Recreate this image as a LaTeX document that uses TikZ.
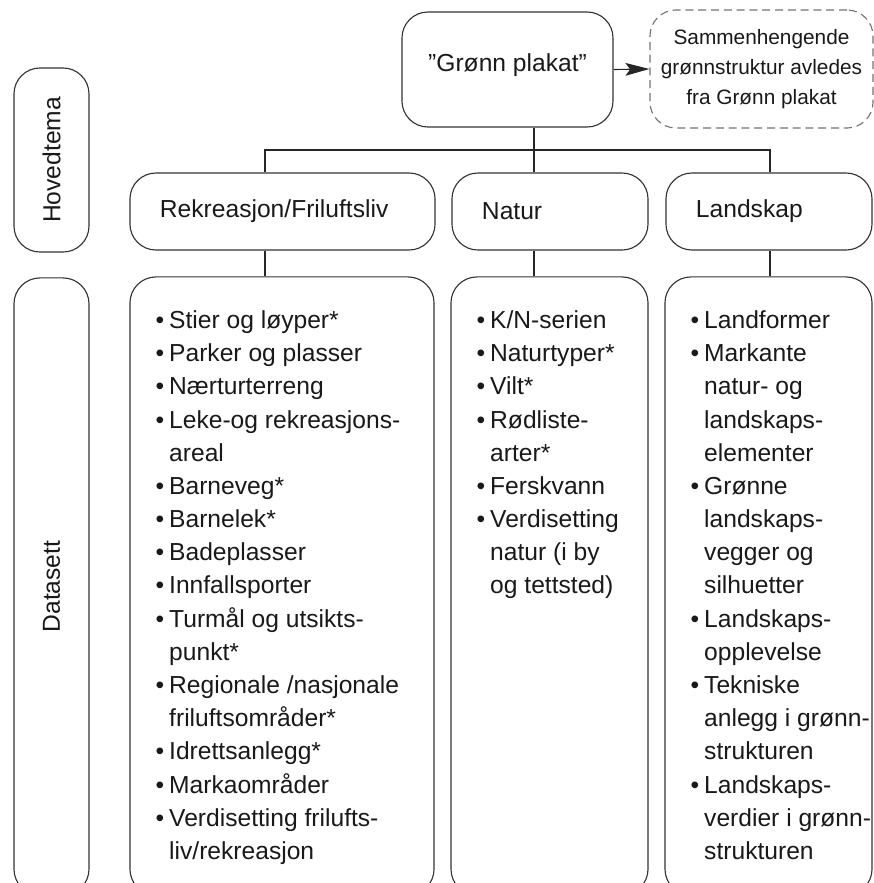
\documentclass[tikz,border=0pt]{standalone}
\usepackage{fontspec}
\setmainfont{Liberation Sans}
\usetikzlibrary{arrows.meta}
\tikzstyle{box} = [draw=black!80, line width=0.8pt, rounded corners=0.65cm, inner sep=0pt]
\tikzstyle{headbox} = [box, minimum height=1.925cm, inner xsep=0.75cm, align=left]
\tikzstyle{sidebox} = [box, rotate=90, minimum height=1.875cm]
\tikzstyle{listbox} = [box, minimum height=15.45cm]
\tikzstyle{listtxt} = [anchor=north west, align=left, inner sep=0pt]
\tikzstyle{link} = [draw=black!85, line width=0.8pt]
\newcommand{\pkt}[1]{\makebox[0.55em][l]{•}#1}
\newcommand{\fort}[1]{\hspace*{0.55em}#1}

\begin{document}
\begin{tikzpicture}[x=0.025cm, y=-0.025cm, font=\fontsize{17.5}{23.6}\selectfont, text=black!90]

		\clip (0,0) rectangle (874,883);

		\node [box, minimum width=5.275cm, minimum height=2.875cm, text height=0.5em, text depth=0.21em] (plakat) at (507.5,69.5) {”Grønn plakat”};
		\node [box, draw=black!55, dash pattern=on 0.2cm off 0.12cm, minimum width=5.575cm, minimum height=2.95cm, align=center, font=\fontsize{14.8}{21.3}\selectfont] (avledet) at (761.5,69) {Sammenhengende\\grønnstruktur avledes\\fra Grønn plakat};
		\draw [link, -{Stealth[length=0.6cm, width=0.32cm, inset=0.12cm]}] (plakat.east) -- (avledet.west);

		\node [sidebox, minimum width=4.6cm] (hovedtema) at (51.5,160) {Hovedtema};
		\node [sidebox, minimum width=15.425cm] (datasett) at (51.5,586.5) {Datasett};

		\node [headbox, text width=6.125cm] (rekreasjon) at (282.5,211.5) {Rekreasjon/Friluftsliv};
		\node [headbox, text width=3.4cm] (natur) at (550,211.5) {Natur};
		\node [headbox, text width=3.65cm] (landskap) at (769,211.5) {Landskap};

		\node [listbox, minimum width=7.6cm] (rekliste) at (282,586) {};
		\node [listbox, minimum width=4.925cm] (naturliste) at (549.5,586) {};
		\node [listbox, minimum width=5.175cm] (landliste) at (768.5,586) {};

		\coordinate (delR) at (265,150);
		\coordinate (delN) at (534,150);
		\coordinate (delL) at (770,150);

		\draw [link] (plakat.south -| delN) -- (delN);
		\draw [link] (rekreasjon.north -| delR) -- (delR) -- (delL) -- (landskap.north -| delL);
		\draw [link] (delN) -- (natur.north -| delN);
		\draw [link] (rekreasjon.south -| delR) -- (rekliste.north -| delR);
		\draw [link] (natur.south -| delN) -- (naturliste.north -| delN);
		\draw [link] (landskap.south -| delL) -- (landliste.north -| delL);

		\node [listtxt] (rektekst) at ([shift={(26,34)}]rekliste.north west) {\pkt{Stier og løyper*}\\ \pkt{Parker og plasser}\\ \pkt{Nærturterreng}\\ \pkt{Leke-og rekreasjons-}\\ \fort{areal}\\ \pkt{Barneveg*}\\ \pkt{Barnelek*}\\ \pkt{Badeplasser}\\ \pkt{Innfallsporter}\\ \pkt{Turmål og utsikts-}\\ \fort{punkt*}\\ \pkt{Regionale /nasjonale}\\ \fort{friluftsområder*}\\ \pkt{Idrettsanlegg*}\\ \pkt{Markaområder}\\ \pkt{Verdisetting frilufts-}\\ \fort{liv/rekreasjon}};

		\node [listtxt] (naturtekst) at ([shift={(26,34)}]naturliste.north west) {\pkt{K/N-serien}\\ \pkt{Naturtyper*}\\ \pkt{Vilt*}\\ \pkt{Rødliste-}\\ \fort{arter*}\\ \pkt{Ferskvann}\\ \pkt{Verdisetting}\\ \fort{natur (i by}\\ \fort{og tettsted)}};

		\node [listtxt] (landtekst) at ([shift={(26,34)}]landliste.north west) {\pkt{Landformer}\\ \pkt{Markante}\\ \fort{natur- og}\\ \fort{landskaps-}\\ \fort{elementer}\\ \pkt{Grønne}\\ \fort{landskaps-}\\ \fort{vegger og}\\ \fort{silhuetter}\\ \pkt{Landskaps-}\\ \fort{opplevelse}\\ \pkt{Tekniske}\\ \fort{anlegg i grønn-}\\ \fort{strukturen}\\ \pkt{Landskaps-}\\ \fort{verdier i grønn-}\\ \fort{strukturen}};

	\end{tikzpicture}
\end{document}
